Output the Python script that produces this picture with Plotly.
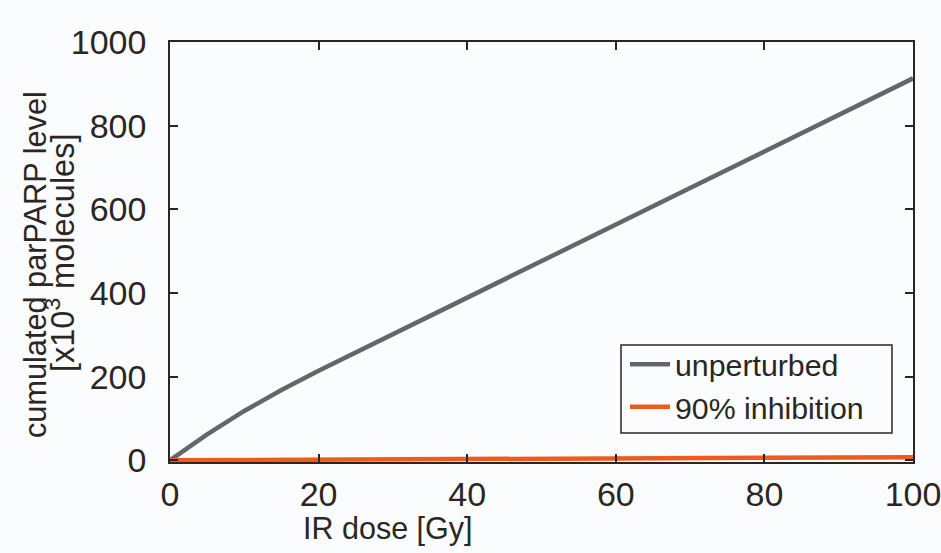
import plotly.graph_objects as go

dose = [0, 5, 10, 15, 20, 30, 40, 50, 60, 70, 80, 90, 100]
unperturbed = [0, 62, 118, 168, 214, 302, 390, 477, 564, 651, 738, 826, 913]
inhibition90 = [0, 0.4, 0.8, 1.2, 1.6, 2.4, 3.1, 3.9, 4.6, 5.4, 6.1, 6.9, 7.6]

x_ticks = [0, 20, 40, 60, 80, 100]
y_ticks = [0, 200, 400, 600, 800, 1000]

FONT = "Liberation Sans, Arial, sans-serif"
TXT = "#2b2622"
BG = "#fbfcfe"

fig = go.Figure()
fig.add_trace(go.Scatter(x=dose, y=unperturbed, mode="lines", name="unperturbed",
                         line=dict(color="#646669", width=4.5)))
fig.add_trace(go.Scatter(x=dose, y=inhibition90, mode="lines", name="90% inhibition",
                         line=dict(color="#f05a1e", width=4.5)))

axis_common = dict(
    showline=True, linecolor=TXT, linewidth=1.5, mirror="ticks",
    ticks="inside", ticklen=8, tickwidth=1.5, tickcolor=TXT,
    showgrid=False, zeroline=False, automargin=False,
    ticklabeloverflow="allow",
    tickfont=dict(family=FONT, size=34, color=TXT),
)

fig.update_layout(
    width=941, height=553,
    margin=dict(l=170, r=28, t=42, b=91, autoexpand=False),
    paper_bgcolor=BG, plot_bgcolor=BG,
    font=dict(family=FONT, color=TXT),
    xaxis=dict(range=[0, 100], tickvals=x_ticks, ticklabelstandoff=1, **axis_common),
    yaxis=dict(range=[-4, 1000], tickvals=y_ticks, ticklabelstandoff=15, **axis_common),
    legend=dict(x=0.6124, y=0.295, xanchor="left", yanchor="top",
                bgcolor="rgba(0,0,0,0)", borderwidth=0,
                font=dict(family=FONT, size=30.3, color=TXT),
                itemwidth=40, tracegroupgap=0),
    showlegend=True,
    shapes=[
        dict(type="rect", xref="paper", yref="paper",
             x0=0.607, x1=0.9717, y0=0.069, y1=0.2786,
             line=dict(color=TXT, width=1.5), fillcolor=BG, layer="below"),
    ],
    annotations=[
        dict(text="IR dose [Gy]", xref="paper", yref="paper", x=0.2934, y=0,
             xanchor="center", yanchor="middle", yshift=-66, showarrow=False,
             font=dict(family=FONT, size=30.5, color=TXT)),
        dict(text="cumulated parPARP level", xref="paper", yref="paper", x=0, y=0.5,
             xanchor="center", yanchor="middle", xshift=-135, yshift=-13,
             textangle=-90, showarrow=False,
             font=dict(family=FONT, size=30.7, color=TXT)),
        dict(text="[x10<sup>3</sup> molecules]", xref="paper", yref="paper", x=0, y=0.5,
             xanchor="center", yanchor="middle", xshift=-110, yshift=-1,
             textangle=-90, showarrow=False,
             font=dict(family=FONT, size=32.5, color=TXT)),
    ],
)

fig.write_html(
    "out.html",
    config={"displayModeBar": False},
    post_script="document.body.style.margin='0';document.body.style.background='#fbfcfe';",
)
